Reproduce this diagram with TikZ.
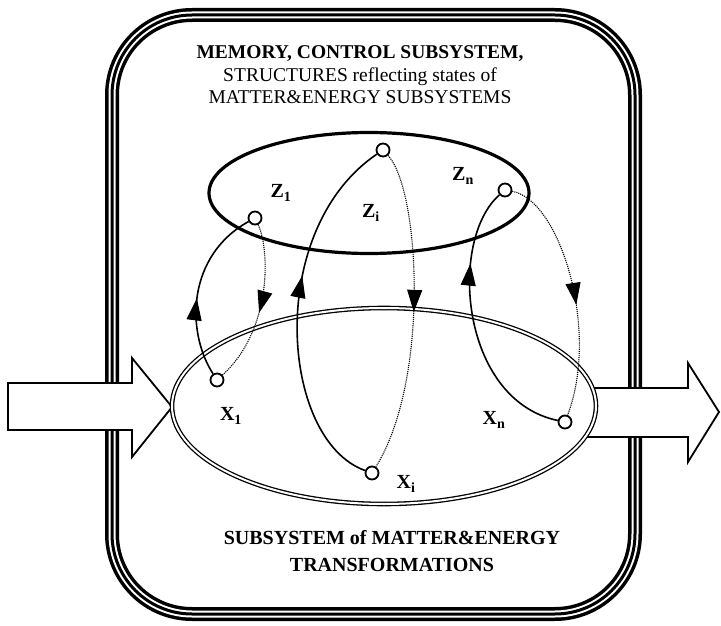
\documentclass[tikz,border=0pt]{standalone}
\usepackage{fontspec}
\setmainfont{Liberation Serif}
\usetikzlibrary{arrows.meta,decorations.markings,shapes.geometric}

\tikzset{
  endpt/.style={circle, draw, line width=1.8pt, fill=white, inner sep=0pt, minimum size=13pt},
  lbl/.style={font=\fontsize{20}{22}\selectfont\bfseries},
  midarrow/.style={postaction={decorate}, decoration={markings,
      mark=at position #1 with {\arrow[line width=1pt]{Triangle[length=22pt,width=15pt]}}}},
  bigarrow/.style={draw, line width=1.8pt, fill=white, line join=miter},
  flow/.style={line width=1.6pt},
  back/.style={line width=1.1pt, densely dotted},
}
\newcommand{\lab}[2]{#1\textsubscript{#2}}

\begin{document}
\begin{tikzpicture}[x=1pt, y=-1pt]
  \useasboundingbox (0,0) rectangle (721,626);

  % Contenitore
  \foreach \w/\c in {14/black, 7/white, 3/black}
    \draw[line width=\w, \c, rounded corners=80] (112,15) rectangle (635,614);

  % Frecce ingresso / uscita
  \draw[bigarrow] (8,383) -- (132,383) -- (132,358) -- (172,407) -- (132,457) -- (132,430) -- (8,430) -- cycle;
  \draw[bigarrow] (560,388) -- (688,388) -- (688,363) -- (719,412) -- (688,462) -- (688,437) -- (560,437) -- cycle;

  % Sottosistemi
  \node[ellipse, draw, double, double distance=2pt, line width=1.3pt, fill=white,
        minimum width=424, minimum height=196] (matter) at (384,406) {};
  \node[ellipse, draw, line width=3.2pt, minimum width=320, minimum height=121] (memory) at (369,193) {};

  % Testi
  \node[align=center, font=\fontsize{19.5}{22.5}\selectfont] (memtxt) at (360,75)
    {\textbf{MEMORY, CONTROL SUBSYSTEM,}\\ STRUCTURES reflecting states of\\ MATTER\&ENERGY SUBSYSTEMS};
  \node[align=center, font=\fontsize{20}{27}\selectfont\bfseries] (mattxt) at (392,551)
    {SUBSYSTEM of MATTER\&ENERGY\\ TRANSFORMATIONS};

  % Stati
  \node[endpt] (z1) at (255,218) {};
  \node[endpt] (zi) at (383,150) {};
  \node[endpt] (zn) at (505,190) {};
  \node[endpt] (x1) at (217,380) {};
  \node[endpt] (xi) at (372,473) {};
  \node[endpt] (xn) at (565,422) {};

  \node[lbl] (lz1) at (281,193) {\lab{Z}{1}};
  \node[lbl] (lzi) at (371,213) {\lab{Z}{i}};
  \node[lbl] (lzn) at (463,176) {\lab{Z}{n}};
  \node[lbl] (lx1) at (231,416) {\lab{X}{1}};
  \node[lbl] (lxi) at (406,484) {\lab{X}{i}};
  \node[lbl] (lxn) at (494,420) {\lab{X}{n}};

  % Legami
  \draw[flow, midarrow=0.45] (x1) .. controls (185,330) and (188,255) .. (z1);
  \draw[back, midarrow=0.55] (z1) .. controls (270,250) and (272,330) .. (x1);
  \draw[flow, midarrow=0.6] (xi) .. controls (280,440) and (265,230) .. (zi);
  \draw[back, midarrow=0.5] (zi) .. controls (420,190) and (430,380) .. (xi);
  \draw[flow, midarrow=0.72] (xn) .. controls (460,400) and (448,240) .. (zn);
  \draw[back, midarrow=0.55] (zn) .. controls (560,200) and (600,330) .. (xn);
\end{tikzpicture}
\end{document}
